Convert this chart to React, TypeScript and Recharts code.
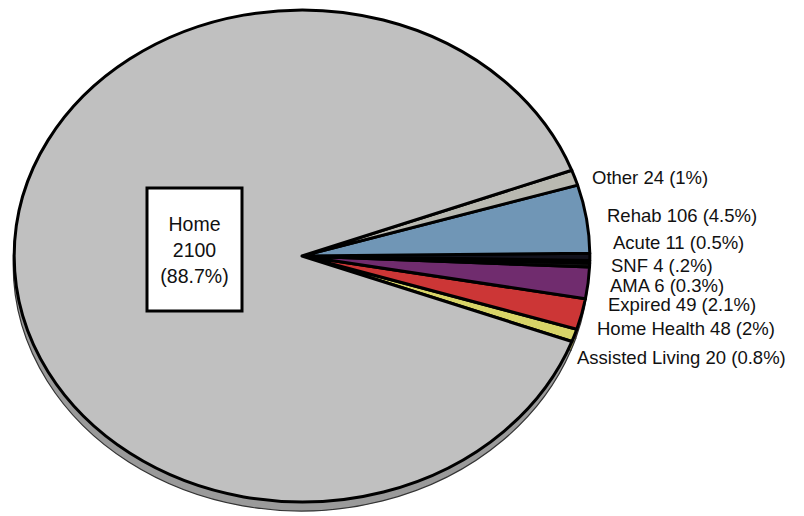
import React from 'react';
import { PieChart, Pie, Cell } from 'recharts';

// slices run counter-clockwise from just below 3 o'clock
const categories = ['Assisted Living', 'Home Health', 'Expired', 'AMA', 'SNF', 'Acute', 'Rehab', 'Other', 'Home'];
const counts = [20, 48, 49, 6, 4, 11, 106, 24, 2100];
const shares = ['0.8%', '2%', '2.1%', '0.3%', '.2%', '0.5%', '4.5%', '1%', '88.7%'];

const data = categories.map((name, i) => ({ name, value: counts[i], share: shares[i] }));

const FACE = ['#D8D468', '#CC3636', '#702C6E', '#141414', '#4B5BA5', '#12121C', '#7096B6', '#B9B9B1', '#C0C0C0'];
const SIDE = ['#A8A450', '#9A2828', '#541F52', '#101010', '#3A4680', '#0E0E16', '#55728C', '#919189', '#9A9A9A'];

// label anchors (left, baseline) for the callouts on the right
const LABEL_AT: [number, number][] = [
  [577, 364], [597, 335], [608, 311], [610, 292], [611, 272], [613, 249], [607, 222], [592, 184],
];

const CX = 302;
const CY = 256;
const RADIUS = 246;
const STRETCH = 1.17;
const START = -20.35;
const FONT = '"Liberation Sans", Arial, sans-serif';
const RAD = Math.PI / 180;

const EllipseSlice = (props: any) => {
  const { cx, cy, outerRadius, startAngle, endAngle, fill, stroke, strokeWidth } = props;
  const rx = outerRadius * STRETCH;
  const ry = outerRadius;
  const pt = (a: number) => [cx + rx * Math.cos(-a * RAD), cy + ry * Math.sin(-a * RAD)];
  const [x1, y1] = pt(startAngle);
  const [x2, y2] = pt(endAngle);
  const delta = endAngle - startAngle;
  const large = Math.abs(delta) > 180 ? 1 : 0;
  const sweep = delta > 0 ? 0 : 1;
  const d = `M${cx},${cy} L${x1},${y1} A${rx},${ry} 0 ${large} ${sweep} ${x2},${y2} Z`;
  return <path d={d} fill={fill} stroke={stroke} strokeWidth={strokeWidth} strokeLinejoin="round" />;
};

const renderLabel = (props: any) => {
  const { index } = props;
  const item = data[index];
  if (item.name === 'Home') {
    return (
      <g>
        <rect x={147} y={188} width={95} height={123} fill="#fff" stroke="#000" strokeWidth={3} />
        <text x={194.5} textAnchor="middle" fontFamily={FONT} fontSize={19.5} fill="#111">
          <tspan x={194.5} y={231}>{item.name}</tspan>
          <tspan x={194.5} y={257}>{item.value}</tspan>
          <tspan x={194.5} y={283}>({item.share})</tspan>
        </text>
      </g>
    );
  }
  const [x, y] = LABEL_AT[index];
  return (
    <text x={x} y={y} fontFamily={FONT} fontSize={18.5} fill="#111" textAnchor="start">
      {`${item.name} ${item.value} (${item.share})`}
    </text>
  );
};

export default function App() {
  return (
    <div style={{ width: 804, height: 516, background: '#fff' }}>
      <style>{'body{margin:0}'}</style>
      <PieChart width={804} height={516} margin={{ top: 0, right: 0, bottom: 0, left: 0 }}>
        <Pie
          data={data}
          dataKey="value"
          nameKey="name"
          cx={CX - 1}
          cy={CY + 9}
          outerRadius={RADIUS}
          startAngle={START}
          endAngle={START + 360}
          stroke="#333"
          strokeWidth={1.2}
          shape={EllipseSlice}
          isAnimationActive={false}
        >
          {data.map((d, i) => (
            <Cell key={d.name} fill={SIDE[i]} />
          ))}
        </Pie>
        <Pie
          data={data}
          dataKey="value"
          nameKey="name"
          cx={CX}
          cy={CY}
          outerRadius={RADIUS}
          startAngle={START}
          endAngle={START + 360}
          stroke="#000"
          strokeWidth={3}
          shape={EllipseSlice}
          label={renderLabel}
          labelLine={false}
          isAnimationActive={false}
        >
          {data.map((d, i) => (
            <Cell key={d.name} fill={FACE[i]} />
          ))}
        </Pie>
      </PieChart>
    </div>
  );
}
